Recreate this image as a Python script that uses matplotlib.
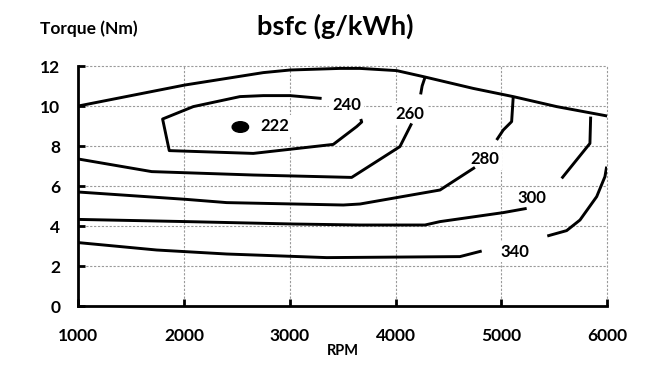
import matplotlib
matplotlib.use("Agg")
import matplotlib.pyplot as plt
from matplotlib.patches import Ellipse

plt.rcParams["font.family"] = ["Lato", "DejaVu Sans"]

# full-load (max torque) line
full_rpm = [1000, 2008, 2749, 3001, 3474, 3663, 4009, 4261, 4733, 5111, 5522, 6000]
full_trq = [10.0, 11.05, 11.67, 11.8, 11.88, 11.88, 11.77, 11.47, 10.88, 10.47, 9.97, 9.5]

# bsfc iso-lines, each may have two pieces (split by the label)
c240_rpm = [3300, 3001, 2749, 2528, 2087, 1797, 1860, 2654, 3410, 3631, 3679, 3670]
c240_trq = [10.38, 10.52, 10.52, 10.47, 9.97, 9.35, 7.77, 7.63, 8.08, 8.97, 9.2, 9.35]

c260_rpm = [1000, 1694, 2654, 3584, 4040, 4151]
c260_trq = [7.35, 6.72, 6.55, 6.43, 7.97, 9.13]
c260b_rpm = [4236, 4250, 4277]
c260b_trq = [10.58, 11.0, 11.43]

c280_rpm = [1000, 2024, 2403, 3505, 3663, 4419, 4749]
c280_trq = [5.7, 5.33, 5.17, 5.05, 5.1, 5.8, 6.93]
c280b_rpm = [4954, 5017, 5096, 5111]
c280b_trq = [8.3, 8.8, 9.22, 10.45]

c300_rpm = [1000, 2024, 3032, 3663, 4277, 4419, 5017, 5238]
c300_trq = [4.33, 4.22, 4.1, 4.05, 4.05, 4.22, 4.67, 4.88]
c300b_rpm = [5569, 5836, 5843]
c300b_trq = [6.38, 8.13, 9.47]

c340_rpm = [1000, 1741, 2403, 3348, 4607, 4813]
c340_trq = [3.17, 2.8, 2.6, 2.42, 2.47, 2.75]
c340b_rpm = [5433, 5616, 5742, 5900, 5978, 5994]
c340b_trq = [3.5, 3.77, 4.3, 5.47, 6.47, 6.97]

# labels
label_text = ["222", "240", "260", "280", "300", "340"]
label_rpm = [2856, 3537, 4135, 4844, 5291, 5128]
label_trq = [8.99, 10.03, 9.6, 7.33, 5.38, 2.72]

# best bsfc point
best_rpm = 2532
best_trq = 8.95

fig = plt.figure(figsize=(6.65, 3.74), dpi=100)
ax = fig.add_axes([0.1177, 0.1818, 0.7955, 0.6417])

ax.set_xlim(1000, 6000)
ax.set_ylim(0, 12)
ax.set_xticks([1000, 2000, 3000, 4000, 5000, 6000])
ax.set_yticks([0, 2, 4, 6, 8, 10, 12])

ax.grid(True, color="#9a9a9a", linestyle=(0, (2, 1.5)), linewidth=0.8)
ax.set_axisbelow(True)
for gl in ax.get_xgridlines() + ax.get_ygridlines():
    gl.set_clip_on(False)

for s in ["top", "right"]:
    ax.spines[s].set_visible(False)
for s in ["left", "bottom"]:
    ax.spines[s].set_linewidth(2.0)

ax.tick_params(direction="in", length=5, width=2, labelsize=12.5)
ax.tick_params(axis="x", pad=16)
ax.tick_params(axis="y", pad=13)
for lab in ax.get_xticklabels() + ax.get_yticklabels():
    lab.set_fontweight("bold")

lines = [(full_rpm, full_trq), (c240_rpm, c240_trq),
         (c260_rpm, c260_trq), (c260b_rpm, c260b_trq),
         (c280_rpm, c280_trq), (c280b_rpm, c280b_trq),
         (c300_rpm, c300_trq), (c300b_rpm, c300b_trq),
         (c340_rpm, c340_trq), (c340b_rpm, c340b_trq)]
for xs, ys in lines:
    ax.plot(xs, ys, color="black", lw=2.1, solid_capstyle="butt", zorder=3)

ax.add_patch(Ellipse((best_rpm, best_trq), 155, 0.53, color="black", zorder=4))

for t, x, y in zip(label_text, label_rpm, label_trq):
    ax.text(x, y, t, ha="center", va="center", fontsize=12, fontweight="bold",
            bbox=dict(facecolor="white", edgecolor="none", pad=2), zorder=2)

ax.set_xlabel("RPM", fontsize=10.5, fontweight="bold", labelpad=0)
fig.text(0.504, 0.930, "bsfc (g/kWh)", ha="center", va="center", fontsize=19.5, fontweight="bold")
fig.text(0.060, 0.924, "Torque (Nm)", ha="left", va="center", fontsize=12.5, fontweight="bold")

plt.savefig("out.png", dpi=100)
